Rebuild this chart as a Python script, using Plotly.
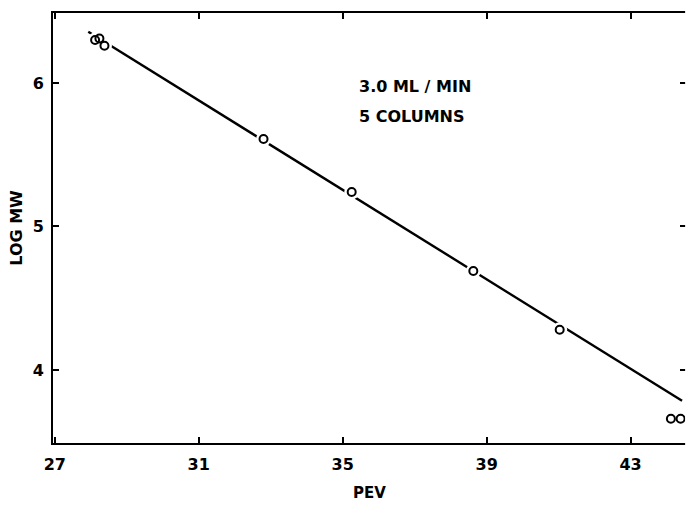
import plotly.graph_objects as go

# Calibration standards: peak elution volume vs. log molecular weight
pev = [28.12, 28.24, 28.38, 32.8, 35.25, 38.63, 41.03, 44.12, 44.39]
log_mw = [6.30, 6.31, 6.26, 5.61, 5.24, 4.69, 4.28, 3.66, 3.66]

# Fitted calibration line (end points)
fit_pev = [27.93, 44.43]
fit_log_mw = [6.357, 3.786]

x_ticks = [27, 31, 35, 39, 43]
y_ticks = [4, 5, 6]

font_family = "DejaVu Sans"

fig = go.Figure()

fig.add_trace(go.Scatter(
    x=fit_pev, y=fit_log_mw, mode="lines",
    line=dict(color="black", width=2.4),
    hoverinfo="skip", showlegend=False,
))
# white halo so the line breaks around each point
fig.add_trace(go.Scatter(
    x=pev, y=log_mw, mode="markers",
    marker=dict(symbol="circle", size=15, color="white", line=dict(width=0)),
    hoverinfo="skip", showlegend=False,
))
fig.add_trace(go.Scatter(
    x=pev, y=log_mw, mode="markers",
    marker=dict(symbol="circle-open", size=8, color="black", line=dict(width=2, color="black")),
    showlegend=False,
))

axis_common = dict(
    showgrid=False, zeroline=False,
    showline=True, linecolor="black", linewidth=2,
    mirror="ticks", ticks="inside", ticklen=6, tickwidth=2, tickcolor="black",
    tickfont=dict(family=font_family, size=16, color="black", weight="bold"),
)

fig.update_layout(
    width=688, height=505,
    margin=dict(l=53, r=0, t=13, b=62),
    paper_bgcolor="white", plot_bgcolor="white",
    xaxis=dict(
        range=[26.95, 44.54], tickvals=x_ticks, ticktext=[str(v) for v in x_ticks],
        title=dict(text="PEV", font=dict(family=font_family, size=15, color="black", weight="bold"),
                   standoff=14),
        ticklabelstandoff=6,
        **axis_common,
    ),
    yaxis=dict(
        range=[3.491, 6.488], tickvals=y_ticks, ticktext=[str(v) for v in y_ticks],
        title=dict(text="LOG MW", font=dict(family=font_family, size=16, color="black", weight="bold"),
                   standoff=6),
        ticklabelstandoff=4,
        **axis_common,
    ),
    annotations=[
        dict(text="3.0 ML / MIN", xref="paper", yref="paper", x=0.48, y=0.828,
             xanchor="left", yanchor="middle", showarrow=False,
             font=dict(family=font_family, size=16, color="black", weight="bold")),
        dict(text="5 COLUMNS", xref="paper", yref="paper", x=0.48, y=0.760,
             xanchor="left", yanchor="middle", showarrow=False,
             font=dict(family=font_family, size=16, color="black", weight="bold")),
    ],
    # the right-hand frame line falls just outside the page edge
    shapes=[dict(type="rect", xref="paper", yref="paper", x0=0.9986, x1=1.01, y0=-0.01, y1=1.01,
                 fillcolor="white", line=dict(width=0), layer="above")],
)

fig.write_html("out.html")
